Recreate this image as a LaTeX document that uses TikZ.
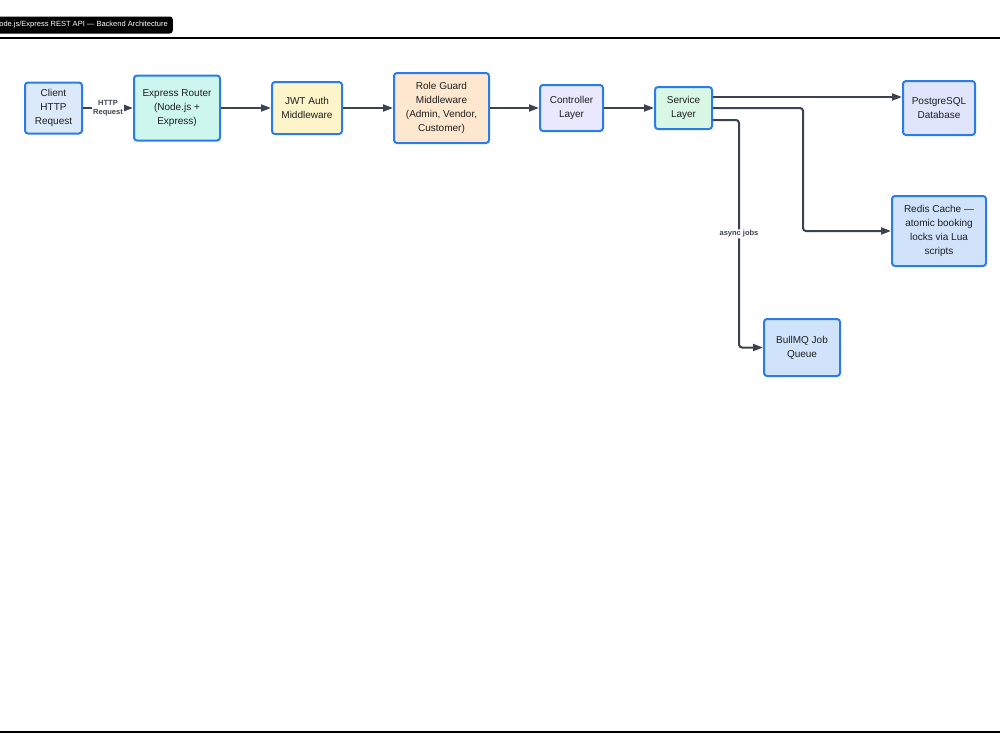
\documentclass[tikz,border=0pt]{standalone}
\usepackage{fontspec}
\setmainfont{Liberation Sans}
\usetikzlibrary{arrows.meta}

\definecolor{edgeblue}{HTML}{2A7CE8}
\definecolor{wiregray}{HTML}{3C4350}
\definecolor{inkgray}{HTML}{1E1E1E}
\definecolor{fillclient}{HTML}{DCE9FB}
\definecolor{fillrouter}{HTML}{CDF6EE}
\definecolor{filljwt}{HTML}{FDF4C9}
\definecolor{fillrole}{HTML}{FDE8CF}
\definecolor{fillctrl}{HTML}{E9E8FC}
\definecolor{fillsvc}{HTML}{D9F7E5}
\definecolor{fillpg}{HTML}{E1E5FB}
\definecolor{fillstore}{HTML}{D0E3FB}

\tikzset{
	layerbox/.style={draw=edgeblue, line width=2pt, rounded corners=3pt, align=center,
		text=inkgray, font=\fontsize{10}{14}\selectfont, inner sep=0pt},
	wire/.style={draw=wiregray, line width=2pt, rounded corners=3pt,
		-{Triangle[length=10pt,width=7pt]}},
	wirelabel/.style={fill=white, text=wiregray, inner sep=1pt,
		font=\bfseries\fontsize{7.5}{9}\selectfont, align=center}
}

\begin{document}
\begin{tikzpicture}[x=1pt, y=-1pt]
		%%%%% START %%%%%
		\useasboundingbox (0, 0) rectangle (1000, 750);
		
		\node[fill=black, rounded corners=3pt, text=white, font=\fontsize{7.5}{9}\selectfont,
			minimum height=17pt, inner xsep=5pt, anchor=east] (title) at (173, 25)
			{ode.js/Express REST API --- Backend Architecture};
		\draw[line width=1.8pt] (0, 38) -- (1000, 38);
		\draw[line width=1.8pt] (0, 732) -- (1000, 732);
		
		\node[layerbox, fill=fillclient, minimum width=57pt, minimum height=51pt] (client) at (53.5, 108) {Client\\HTTP\\Request};
		\node[layerbox, fill=fillrouter, minimum width=86pt, minimum height=65pt] (router) at (177, 108) {Express Router\\(Node.js +\\Express)};
		\node[layerbox, fill=filljwt, minimum width=70pt, minimum height=52pt] (jwt) at (307, 108) {JWT Auth\\Middleware};
		\node[layerbox, fill=fillrole, minimum width=95pt, minimum height=70pt] (role) at (441.5, 108) {Role Guard\\Middleware\\(Admin, Vendor,\\Customer)};
		\node[layerbox, fill=fillctrl, minimum width=63pt, minimum height=46pt] (ctrl) at (571.5, 108) {Controller\\Layer};
		\node[layerbox, fill=fillsvc, minimum width=57pt, minimum height=42pt] (svc) at (683.5, 108) {Service\\Layer};
		
		\node[layerbox, fill=fillpg, minimum width=72pt, minimum height=54pt] (pg) at (939, 108) {PostgreSQL\\Database};
		\node[layerbox, fill=fillstore, minimum width=94pt, minimum height=70pt] (redis) at (939, 231) {Redis Cache ---\\atomic booking\\locks via Lua\\scripts};
		\node[layerbox, fill=fillstore, minimum width=76pt, minimum height=57pt] (bull) at (802, 347.5) {BullMQ Job\\Queue};
		
		\draw[wire] (client) -- node[wirelabel] {HTTP\\Request} (router);
		\draw[wire] (router) -- (jwt);
		\draw[wire] (jwt) -- (role);
		\draw[wire] (role) -- (ctrl);
		\draw[wire] (ctrl) -- (svc);
		
		\draw[wire] ([yshift=11pt]svc.east) -- ([yshift=11pt]pg.west);
		\draw[wire] (svc.east) -- ++(90, 0) |- (redis.west);
		\draw[wire] ([yshift=-12pt]svc.east) -- ++(26, 0) |- node[wirelabel, pos=0.25] {async jobs} (bull.west);
		
		%%%%% END %%%%%
	\end{tikzpicture}
\end{document}
